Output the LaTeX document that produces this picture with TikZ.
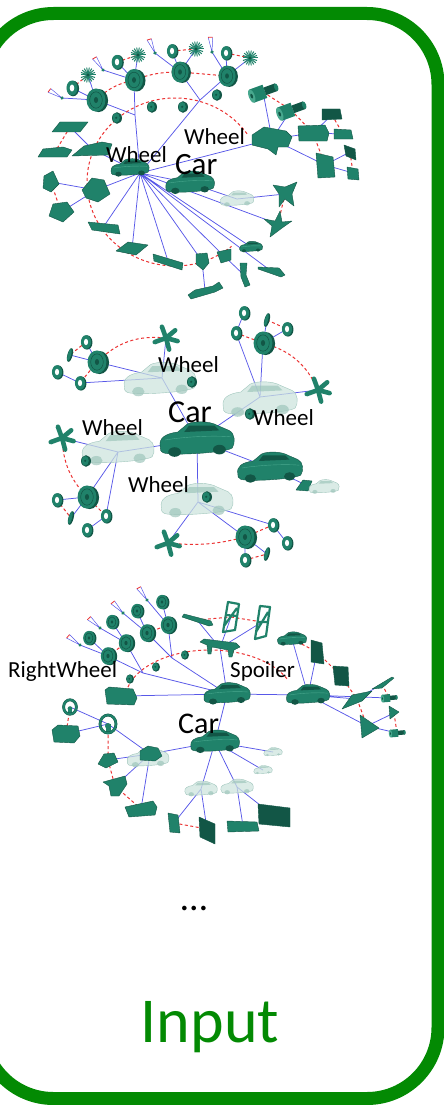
\documentclass[tikz,border=0pt]{standalone}
\usepackage{fontspec}
\setmainfont{Carlito}
\pgfdeclarelayer{bg}
\pgfsetlayers{bg,main}
\definecolor{tmain}{RGB}{32,130,106}
\definecolor{tdark}{RGB}{18,86,70}
\definecolor{tlight}{RGB}{72,168,142}
\definecolor{ebl}{RGB}{88,88,232}
\definecolor{rd}{RGB}{235,50,50}
\definecolor{grn}{RGB}{3,138,3}
\definecolor{ghf}{RGB}{205,228,222}
\definecolor{ghd}{RGB}{160,198,188}
% ---------- part macros ----------
\newcommand\PTire[3][1]{\coordinate (#2) at #3;
 \begin{scope}[shift={#3},scale=#1]
 \fill[tdark] (2.5,0.5) ellipse (9 and 11);
 \fill[tmain] (0,0) ellipse (9 and 11);
 \draw[tdark,line width=0.5pt] (0,0) ellipse (6 and 7.8);
 \fill[tdark] (0,0) ellipse (2 and 2.8);
 \end{scope}}
\newcommand\PRing[3][1]{\coordinate (#2) at #3;
 \begin{scope}[shift={#3},scale=#1]
 \fill[tdark] (0.9,0.4) ellipse (5 and 6.5);
 \fill[tmain] (0,0) ellipse (4.6 and 6.2);
 \fill[white] (0,0) ellipse (1.9 and 2.9);
 \end{scope}}
\newcommand\PBar[2]{\coordinate (#1) at #2;
 \begin{scope}[shift={#2},rotate=-15]
 \fill[tdark] (0,0) ellipse (2.6 and 7);
 \fill[tmain] (-0.6,0) ellipse (1.6 and 6.5);
 \end{scope}}
\newcommand\PFan[2]{\coordinate (#1) at #2;
 \begin{scope}[shift={#2}]
 \foreach \a in {0,20,...,340} \draw[tmain,line width=1pt] (0,0) -- (\a:7.5);
 \fill[tdark] (0,0) circle (1.6);
 \end{scope}}
\newcommand\PStar[3][1]{\coordinate (#2) at #3;
 \begin{scope}[shift={#3},scale=#1]
 \foreach \a in {-110,-40,15,75,160} \draw[tmain,line width=4.6pt,line cap=round] (0,0) -- (\a:12);
 \end{scope}}
\newcommand\PTri[3]{\coordinate (#1) at #2;
 \begin{scope}[shift={#2},rotate=#3]
 \draw[ebl,line width=0.5pt] (-2,-15) -- (0,0) -- (2.5,-14.5);
 \draw[rd,line width=0.8pt] (-2,-15) -- (2.5,-14.5);
 \fill[tmain] (0,0) circle (1.8);
 \end{scope}}
\newcommand\PBall[3][1]{\coordinate (#2) at #3;
 \begin{scope}[shift={#3},scale=#1]
 \fill[tdark] (0,0) ellipse (5 and 5.8);
 \fill[tmain] (-0.8,-0.2) ellipse (3.6 and 4.8);
 \fill[tdark] (-0.8,-0.2) circle (1.2);
 \end{scope}}
\newcommand\PPanel[3]{\coordinate (#1) at #2;
 \filldraw[tmain,draw=tdark,line width=0.4pt,line join=round,shift={#2}] #3;}
\newcommand\PPanelD[3]{\coordinate (#1) at #2;
 \filldraw[tdark,draw=tdark,line width=0.4pt,line join=round,shift={#2}] #3;}
\newcommand\PFrame[3]{\coordinate (#1) at #2;
 \draw[tmain,line width=2.2pt,line join=round,shift={#2}] #3;}
\newcommand\PCyl[4][1]{\coordinate (#2) at #3;
 \begin{scope}[shift={#3},scale=#1,rotate=#4]
 \fill[tmain] (-12,-7) rectangle (2,7);
 \fill[tdark] (2,-4) rectangle (14,4);
 \fill[tmain] (14,0) ellipse (2 and 4);
 \fill[tlight] (-12,0) ellipse (3 and 7);
 \fill[tdark] (-12,0) ellipse (1.2 and 2.5);
 \end{scope}}
\newcommand\PSteer[3][1]{\coordinate (#2) at #3;
 \begin{scope}[shift={#3},scale=#1]
 \fill[tmain] (-2.5,0) rectangle (2.5,10);
 \draw[tdark,line width=2.8pt] (0,0) ellipse (8 and 9);
 \draw[tmain,line width=2pt] (0,0) ellipse (8 and 9);
 \fill[tmain] (0,2) circle (3);
 \end{scope}}
\newcommand\carbody{(-23,4) .. controls (-24,-1) and (-20,-4) .. (-12,-5) -- (-6,-10) .. controls (-2,-12) and (8,-12) .. (13,-9) -- (20,-6) .. controls (24,-4) and (24,2) .. (22,5) .. controls (18,8) and (-16,10) .. (-21,8) .. controls (-23,7) and (-23,6) .. (-23,4) -- cycle}
\newcommand\PCar[3][1]{\coordinate (#2) at #3;
 \begin{scope}[shift={#3},scale=#1]
 \filldraw[tmain,draw=tdark,line width=0.4pt] \carbody;
 \fill[tdark] (-5,-9) -- (11,-9) -- (14,-6) -- (-8,-5) -- cycle;
 \fill[tdark] (-14,7.5) ellipse (4 and 3);
 \fill[tdark] (14,6) ellipse (4 and 3);
 \draw[tlight,line width=0.4pt] (-20,0) .. controls (-8,-2) and (10,-3) .. (21,-2);
 \end{scope}}
\newcommand\PGhost[3][1]{\coordinate (#2) at #3;
 \begin{scope}[shift={#3},scale=#1]
 \filldraw[fill=ghf,draw=ghd,line width=0.4pt,fill opacity=0.75] \carbody;
 \fill[ghd,fill opacity=0.7] (-5,-9) -- (11,-9) -- (14,-6) -- (-8,-5) -- cycle;
 \fill[ghd,fill opacity=0.7] (-14,7.5) ellipse (4 and 3);
 \fill[ghd,fill opacity=0.7] (14,6) ellipse (4 and 3);
 \end{scope}}
\begin{document}
\begin{tikzpicture}[x=1pt,y=-1pt,
  edge/.style={ebl,line width=0.75pt},
  rdash/.style={rd,line width=1pt,dash pattern=on 3pt off 2.5pt},
  lbl/.style={inner sep=0pt,anchor=base west,text depth=0pt,font=\fontsize{23}{26}\selectfont},
  carlbl/.style={inner sep=0pt,anchor=base west,text depth=0pt,font=\fontsize{31}{34}\selectfont}]
\useasboundingbox (0,0) rectangle (444,1105);
\draw[grn,line width=13pt,rounded corners=71pt] (-17.5,13.5) rectangle (438,1098.5);

% ================= GRAPH 1 =================
\PTire[1.05]{w1}{(96,100)}
\PTire[1.0]{w2}{(134,80)}
\PTire[0.95]{w3}{(180,72)}
\PTire[0.95]{w4}{(227,76)}
\PRing[1.2]{r1}{(72,88)} \PRing[1.15]{r2}{(117,62)} \PRing[1.1]{r3}{(172,51)} \PRing[1.1]{r4}{(226,53)}
\PFan{f1}{(88,75)} \PFan{f2}{(138,55)} \PFan{f3}{(196,49)} \PFan{f4}{(250,58)}
\PTri{t1}{(62,98)}{60} \PTri{t2}{(103,70)}{36} \PTri{t3}{(155,53)}{24} \PTri{t4}{(212,52)}{7}
\PBall{b1}{(117,118)} \PBall{b2}{(152,107)} \PBall{b3}{(183,107)} \PBall{b4}{(217,95)}
\coordinate (j1) at (135,115);
\coordinate (j2) at (200,100);
\coordinate (h1) at (140,173);
% left
\PPanel{pA}{(70,127)}{(-18,5) -- (-10,-5) -- (18,-5) -- (10,5) -- cycle}
\PPanel{pB}{(55,152)}{(-17,5) -- (-12,-3) -- (8,-5) -- (17,-2) -- (12,5) -- cycle}
\PPanel{pC}{(92,149)}{(-20,7) -- (-8,-3) -- (10,-7) -- (20,-5) -- (16,6) -- cycle}
\PPanel{pD}{(96,190)}{(-14,0) -- (-4,-12) -- (8,-10) -- (14,4) -- (2,12) -- (-10,8) -- cycle}
\PPanel{pE}{(51,182)}{(-8,6) -- (-7,-6) -- (2,-11) -- (8,2) -- (0,10) -- cycle}
\PPanel{pF}{(61,212)}{(-12,4) -- (-8,-8) -- (6,-10) -- (13,0) -- (2,10) -- cycle}
% bottom
\PPanel{pG}{(104,226)}{(-16,-4) -- (14,-1) -- (16,8) -- (-12,4) -- cycle}
\PPanel{pH}{(132,249)}{(-16,2) -- (-4,-7) -- (16,-4) -- (4,6) -- cycle}
\PPanel{pI}{(168,261)}{(-15,-7) -- (15,2) -- (14,9) -- (-14,0) -- cycle}
\PPanel{pJ}{(202,261)}{(-6,-7) -- (5,-8) -- (7,2) -- (1,9) -- (-6,3) -- cycle}
\PPanel{pK}{(224,256)}{(-7,-4) -- (7,-7) -- (7,4) -- (-3,7) -- cycle}
\PCar[0.5]{sc1}{(251,247)}
\PPanel{pL}{(271,271)}{(-13,-4) -- (8,-3) -- (14,4) -- (10,6) -- (-13,-2) -- cycle}
\PPanel{pM}{(205,290)}{(-17,5) -- (-10,0) -- (8,-4) -- (14,-8) -- (18,-2) -- (10,2) -- (-14,9) -- cycle}
\PPanel{pN}{(244,275)}{(-4,-12) -- (3,-12) -- (2,0) -- (6,10) -- (1,12) -- (-3,2) -- cycle}
% right lower
\PGhost[0.72]{g1}{(237,199)}
\PPanel{pC1}{(285,194)}{(-12,-9) -- (0,-7) -- (12,-12) -- (7,0) -- (9,12) -- (0,5) -- (-6,13) -- (-6,0) -- cycle}
\PPanel{pC2}{(278,224)}{(-14,-5) -- (-3,-3) -- (2,-13) -- (4,-2) -- (14,-3) -- (4,4) -- (-8,13) -- (-6,2) -- cycle}
% right cluster
\PPanel{R0}{(272,139)}{(-20,-4) -- (-8,-12) -- (14,-8) -- (20,-2) -- (16,8) -- (6,8) -- (4,16) -- (-4,10) -- (-20,6) -- cycle}
\PCyl{R1}{(263,92)}{20}
\PCyl{R2}{(291,110)}{20}
\PPanel{R3}{(313,133)}{(-15,-7) -- (12,-8) -- (16,0) -- (14,8) -- (-14,8) -- cycle}
\PPanelD{R4}{(332,115)}{(-10,-6) -- (8,-6) -- (10,4) -- (-10,5) -- cycle}
\PPanel{R5}{(343,134)}{(-9,-5) -- (8,-4) -- (10,5) -- (-9,5) -- cycle}
\PPanel{R6}{(325,165)}{(-9,-12) -- (8,-8) -- (10,12) -- (-7,13) -- cycle}
\PPanelD{R7}{(350,152)}{(-6,-7) -- (5,-3) -- (6,8) -- (-4,4) -- cycle}
\PPanel{R8}{(353,173)}{(-6,-6) -- (5,-4) -- (6,7) -- (-5,6) -- cycle}
% cars
\PCar[0.82]{c1}{(130,168)}
\PCar[1.05]{c1b}{(190,183)}

\begin{pgfonlayer}{bg}
\draw[edge] (h1)--(j1) (j1)--(w1) (j1)--(w2) (h1)--(j2) (j2)--(w3) (j2)--(w4)
 (w1)--(r1) (w1)--(f1) (w1)--(t1) (w2)--(r2) (w2)--(f2) (w2)--(t2)
 (w3)--(r3) (w3)--(f3) (w3)--(t3) (w4)--(r4) (w4)--(f4) (w4)--(t4)
 (h1)--(pC) (pC)--(pA) (h1)--(pD) (pD)--(pE) (pD)--(pF)
 (h1)--(pG) (h1)--(pH) (h1)--(pI) (h1)--(pJ) (h1)--(pK) (h1)--(sc1) (h1)--(pL) (pJ)--(pM) (pK)--(pN)
 (h1)--(c1b) (c1b)--(g1) (g1)--(pC1) (h1)--(pC2)
 (h1)--(R0) (R0)--(R1) (R0)--(R2) (R0)--(R3) (R3)--(R4) (R3)--(R5) (R0)--(R6) (R6)--(R7) (R6)--(R8);
\draw[rdash] (175,182) ++(-35:88 and 84) arc[start angle=-35,end angle=-310,x radius=88,y radius=84];
\draw[rdash] (r1)--(f1) (r2)--(f2) (r3)--(f3) (r4)--(f4)
 (w1) to[bend left=15] (w2) (w2) to[bend left=10] (w3) (w3)--(w4)
 (pA)--(pB) (pE)--(pF) (pC1)--(pC2) (R1)--(R2) (R2)--(R3) (R3)--(R6) (R4)--(R5) (R7)--(R8);
\end{pgfonlayer}
\node[lbl] (l1a) at (106,162) {Wheel};
\node[lbl] (l1b) at (184,145) {Wheel};
\node[carlbl] (l1c) at (175,174) {Car};

% ================= GRAPH 2 =================
\PGhost[1.55]{gA}{(160,380)}
\PGhost[1.6]{gB}{(260,400)}
\PGhost[1.55]{gC}{(118,449)}
\PGhost[1.55]{gD}{(197,501)}
\coordinate (hA) at (162,378);
\coordinate (hB) at (260,397);
\coordinate (hC) at (118,452);
\coordinate (hD) at (198,502);
% cluster A
\PStar{sA}{(166,338)}
\PTire[1.05]{wA}{(97,362)}
\PRing[1.1]{rA1}{(86,342)} \PBar{bA}{(70,355)} \PRing[1.1]{rA2}{(57,372)} \PRing[1.1]{rA3}{(80,383)}
\PBall{blA}{(192,382)}
% cluster B
\PTire[1.05]{wB}{(263,343)}
\PStar{sB}{(318,390)}
\PRing[1.1]{rB1}{(236,333)} \PRing[1.1]{rB2}{(244,313)} \PBar{bB}{(267,320)} \PRing[1.1]{rB3}{(287,329)}
\PBall{blB}{(250,414)}
% cluster C
\PStar{sC2}{(62,438)}
\PTire[1.05]{wC}{(87,497)}
\PRing[1.1]{rC1}{(106,516)} \PRing[1.1]{rC2}{(57,500)} \PBar{bC}{(71,518)} \PRing[1.1]{rC3}{(87,530)}
\PBall{blC}{(86,461)}
% cluster D
\PStar{sD}{(168,543)}
\PTire[1.05]{wD}{(245,537)}
\PRing[1.1]{rD1}{(273,525)} \PRing[1.1]{rD2}{(287,543)} \PBar{bD}{(267,554)} \PRing[1.1]{rD3}{(245,560)}
\PBall{blD}{(207,497)}
% cars
\PCar[1.6]{c2}{(197,440)}
\PCar[1.4]{c2b}{(270,468)}
\PPanel{pW}{(308,486)}{(-12,4) -- (-5,-6) -- (4,-5) -- (0,5) -- cycle}
\PGhost[0.65]{gW}{(324,487)}
\begin{pgfonlayer}{bg}
\draw[edge] (c2)--(hA) (c2)--(hB) (c2)--(hC) (c2)--(hD) (c2)--(c2b) (c2b)--(pW)
 (hA)--(sA) (hA)--(wA) (hA)--(rA3) (wA)--(rA1) (wA)--(bA) (rA2)--(rA3)
 (hB)--(wB) (hB)--(sB) (hB)--(rB1) (wB)--(rB3) (wB)--(bB) (rB1)--(rB2)
 (hC)--(sC2) (hC)--(wC) (hC)--(rC1) (wC)--(rC2) (wC)--(bC) (rC1)--(rC3)
 (hD)--(sD) (hD)--(wD) (hD)--(rD1) (rD1)--(rD2) (wD)--(rD3) (wD)--(bD);
\draw[rdash] (sA) to[bend right=25] (wA) (rA1)--(bA) (wA)--(rA3)
 (wB) to[bend left=25] (sB) (bB)--(rB3) (rB1)--(wB)
 (sC2) to[bend right=20] (wC) (rC2)--(bC) (wC)--(rC1)
 (sD) to[bend right=10] (wD) (rD1)--(wD) (rD3)--(bD);
\end{pgfonlayer}
\node[lbl] (l2a) at (158,372) {Wheel};
\node[lbl] (l2b) at (253,425) {Wheel};
\node[lbl] (l2c) at (82,435) {Wheel};
\node[lbl] (l2d) at (128,492) {Wheel};
\node[carlbl,font=\fontsize{32}{35}\selectfont] (l2e) at (168,422) {Car};

% ================= GRAPH 3 =================
\coordinate (k1) at (143,673);
\coordinate (k2) at (172,658);
\PTire[0.8]{u1}{(108,656)} \PTire[0.8]{u2}{(126,643)} \PTire[0.8]{u3}{(147,633)} \PTire[0.8]{u4}{(168,625)}
\PTire[0.65]{v1}{(89,638)} \PTire[0.65]{v2}{(112,622)} \PTire[0.65]{v3}{(137,611)} \PTire[0.65]{v4}{(162,602)}
\PTri{q1}{(80,645)}{55} \PTri{q2}{(100,628)}{49} \PTri{q3}{(123,613)}{45} \PTri{q4}{(147,600)}{35}
\PBall[0.8]{bb1}{(130,679)} \PBall[0.8]{bb2}{(156,667)} \PBall[0.8]{bb3}{(185,655)}
\PPanel{bx}{(121,696)}{(-16,-6) -- (-12,-9) -- (12,-7) -- (16,2) -- (13,9) -- (-14,8) -- cycle}
% spoiler
\PPanel{wg}{(197,620)}{(-15,-3) -- (-13,-6) -- (14,1) -- (16,5) -- (12,6) -- cycle}
\PFrame{fr1}{(231,617)}{(-8,15) -- (-3,-15) -- (8,-13) -- (4,13) -- cycle (-7,9) -- (6,-9) (-5,-2) -- (6,-1)}
\PFrame{fr2}{(262,622)}{(-7,17) -- (-2,-16) -- (8,-15) -- (4,14) -- cycle (-6,10) -- (6,-10) (-4,0) -- (6,0)}
\PPanel{sp}{(220,648)}{(-20,-6) -- (-16,-9) -- (16,-5) -- (20,-1) -- (14,2) -- (12,9) -- (9,9) -- (8,2) -- (-8,-1) -- (-9,6) -- (-12,6) -- (-13,-3) -- cycle}
% right
\PCar[0.63]{s3}{(292,639)}
\PPanelD{pn1}{(317,652)}{(-6,-12) -- (5,-9) -- (7,12) -- (-6,10) -- cycle}
\PPanelD{pn2}{(341,676)}{(-8,-10) -- (7,-9) -- (8,10) -- (-6,9) -- cycle}
\PPanel{wd1}{(357,699)}{(-15,10) -- (-5,-4) -- (15,-8) -- (5,2) -- cycle}
\PPanel{wd2}{(382,684)}{(-10,5) -- (10,-7) -- (12,-6) -- (0,4) -- cycle}
\PCyl[0.55]{cy1}{(389,698)}{5}
\PPanel{trb}{(367,726)}{(-7,-11) -- (12,2) -- (-5,12) -- cycle}
\PPanel{trs}{(394,713)}{(-5,-7) -- (5,-1) -- (-4,6) -- cycle}
\PCyl[0.55]{cy2}{(397,733)}{5}
% lower
\PGhost[0.4]{gs1}{(273,752)} \PGhost[0.4]{gs2}{(263,770)}
\PGhost[0.7]{gs3}{(201,789)} \PGhost[0.7]{gs4}{(237,787)}
\PGhost[0.9]{gS}{(148,758)}
\PPanel{seat}{(150,754)}{(-10,-3) -- (-2,-8) -- (8,-6) -- (12,2) -- (5,7) -- (-10,6) -- cycle}
\PPanel{pq1}{(174,823)}{(-6,-10) -- (4,-8) -- (6,10) -- (-4,9) -- cycle}
\PPanelD{pq2}{(207,829)}{(-8,-12) -- (8,-5) -- (8,15) -- (-7,8) -- cycle}
\PPanel{pq3}{(243,826)}{(-16,-5) -- (14,-4) -- (16,5) -- (-15,6) -- cycle}
\PPanelD{pq4}{(274,816)}{(-16,-12) -- (16,-8) -- (16,11) -- (-15,8) -- cycle}
\PSteer{st1}{(108,724)}
\PSteer[0.8]{st2}{(70,707)}
\PPanel{st3}{(66,734)}{(-14,-4) -- (-8,-9) -- (12,-8) -- (14,2) -- (8,9) -- (-12,8) -- cycle}
\PPanel{pp1}{(108,760)}{(-10,4) -- (-4,-6) -- (6,-7) -- (10,2) -- (-2,8) -- cycle}
\PPanel{pp2}{(115,786)}{(-12,-4) -- (10,-10) -- (12,-2) -- (4,10) -- (-4,10) -- (-6,0) -- cycle}
\PPanel{pp3}{(141,809)}{(-16,-2) -- (12,-8) -- (16,-2) -- (14,6) -- (-12,8) -- cycle}
% cars
\PCar[1.0]{c3}{(227,694)}
\PCar[1.05]{c3b}{(215,742)}
\PCar[0.93]{c3c}{(308,695)}
\begin{pgfonlayer}{bg}
\draw[edge] (c3)--(k1) (c3)--(k2) (c3)--(bx) (k1)--(u1) (k1)--(u2) (k2)--(u3) (k2)--(u4)
 (u1)--(v1) (u2)--(v2) (u3)--(v3) (u4)--(v4) (u1)--(q1) (u2)--(q2) (u3)--(q3) (u4)--(q4)
 (c3)--(sp) (sp)--(fr1) (sp)--(fr2) (sp)--(wg)
 (c3)--(c3c) (c3c)--(s3) (c3c)--(pn1) (c3c)--(wd1) (c3c)--(cy1) (c3c)--(trb) (trb)--(trs) (trb)--(cy2) (wd1)--(wd2)
 (c3)--(c3b) (c3b)--(seat) (c3b)--(gs1) (c3b)--(gs2) (c3b)--(gs3) (c3b)--(gs4)
 (gs3)--(pq1) (gs3)--(pq2) (gs4)--(pq3) (gs4)--(pq4)
 (seat)--(st1) (st1)--(st2) (st1)--(st3) (seat)--(pp1) (seat)--(pp2) (seat)--(pp3);
\draw[rdash] (210,700) ++(-165:85 and 50) arc[start angle=-165,end angle=-25,x radius=85,y radius=50];
\draw[rdash] (u1)--(u2) (u3)--(u4) (wg)--(fr1) (fr1)--(fr2)
 (s3)--(pn1) (pn1)--(pn2) (pn2)--(wd1) (wd2)--(cy1) (wd1)--(trb) (trs)--(cy2)
 (pq1)--(pq2) (st2)--(st3) (st1)--(pp1) (pp1)--(pp2) (pp2)--(pp3);
\end{pgfonlayer}
\node[lbl] (l3a) at (8,677) {RightWheel};
\node[lbl] (l3b) at (230,677) {Spoiler};
\node[carlbl,font=\fontsize{30}{33}\selectfont] (l3c) at (178,733) {Car};

% ================= footer =================
\node[inner sep=0pt,anchor=base,font=\fontsize{38}{40}\selectfont] (dots) at (194,910) {…};
\node[inner sep=0pt,anchor=base,text=grn,font=\fontsize{64}{70}\selectfont] (inp) at (210,1042) {Input};
\end{tikzpicture}
\end{document}
